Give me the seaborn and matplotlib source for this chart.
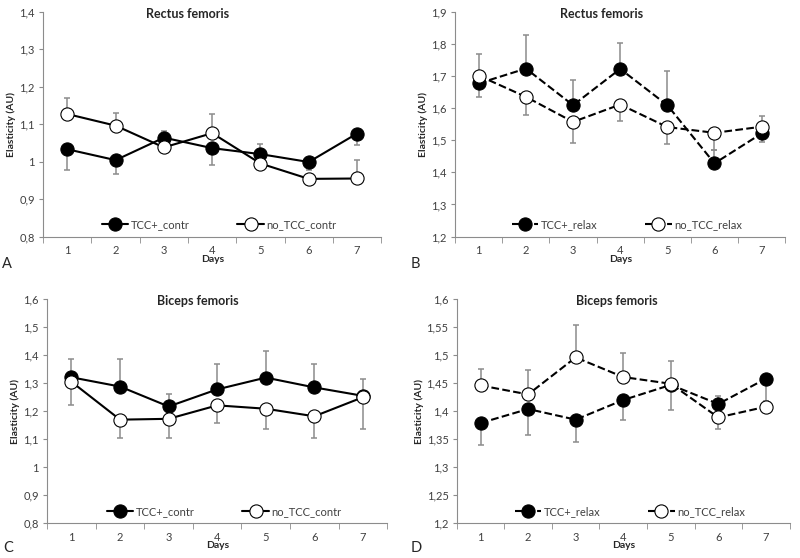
import numpy as np
import pandas as pd
import matplotlib
matplotlib.use("Agg")
import matplotlib.pyplot as plt
import seaborn as sns
from matplotlib.ticker import FuncFormatter

sns.set_style("white")
plt.rcParams['font.family'] = ['Lato', 'DejaVu Sans']

days = [1, 2, 3, 4, 5, 6, 7]

# Panel A - Rectus femoris, contraction
a_tcc = [1.033, 1.004, 1.064, 1.036, 1.020, 0.999, 1.075]
a_tcc_up = [0, 0, 0.018, 0, 0.026, 0, 0]
a_tcc_dn = [0.054, 0.036, 0, 0.046, 0, 0.02, 0.030]
a_no = [1.127, 1.096, 1.038, 1.076, 0.995, 0.954, 0.955]
a_no_up = [0.042, 0.033, 0, 0.051, 0, 0, 0.049]
a_no_dn = [0, 0, 0, 0, 0, 0, 0]

# Panel B - Rectus femoris, relaxation
b_tcc = [1.677, 1.723, 1.609, 1.722, 1.609, 1.428, 1.521]
b_tcc_up = [0, 0.103, 0.080, 0.081, 0.106, 0.043, 0]
b_tcc_dn = [0.042, 0, 0, 0, 0, 0, 0.026]
b_no = [1.701, 1.635, 1.557, 1.611, 1.541, 1.523, 1.542]
b_no_up = [0.066, 0, 0, 0, 0, 0, 0.033]
b_no_dn = [0, 0.057, 0.065, 0.050, 0.052, 0.053, 0]

# Panel C - Biceps femoris, contraction
c_tcc = [1.321, 1.288, 1.217, 1.278, 1.320, 1.285, 1.255]
c_tcc_up = [0.067, 0.097, 0.044, 0.092, 0.095, 0.082, 0.060]
c_tcc_dn = [0, 0, 0, 0, 0, 0, 0]
c_no = [1.305, 1.170, 1.173, 1.221, 1.209, 1.182, 1.250]
c_no_up = [0, 0, 0, 0, 0, 0, 0]
c_no_dn = [0.082, 0.065, 0.068, 0.063, 0.071, 0.078, 0.112]

# Panel D - Biceps femoris, relaxation
d_tcc = [1.379, 1.404, 1.385, 1.420, 1.447, 1.413, 1.458]
d_tcc_up = [0, 0, 0, 0, 0, 0.015, 0]
d_tcc_dn = [0.040, 0.046, 0.040, 0.036, 0.045, 0, 0.04]
d_no = [1.446, 1.430, 1.496, 1.461, 1.449, 1.389, 1.408]
d_no_up = [0.030, 0.043, 0.057, 0.043, 0.040, 0, 0]
d_no_dn = [0, 0, 0, 0, 0, 0.021, 0]

panels = [
    dict(tcc=a_tcc, tu=a_tcc_up, td=a_tcc_dn, no=a_no, nu=a_no_up, nd=a_no_dn,
         title='Rectus femoris', names=('TCC+_contr', 'no_TCC_contr'), ls='-',
         yticks=np.arange(0.8, 1.41, 0.1), letter='A', lx=0.003, ly=0.540,
         pos=[0.054, 0.576, 0.4225, 0.403], tx=0.235, ty=0.986),
    dict(tcc=b_tcc, tu=b_tcc_up, td=b_tcc_dn, no=b_no, nu=b_no_up, nd=b_no_dn,
         title='Rectus femoris', names=('TCC+_relax', 'no_TCC_relax'), ls='--',
         yticks=np.arange(1.2, 1.91, 0.1), letter='B', lx=0.513, ly=0.540,
         pos=[0.569, 0.576, 0.4125, 0.403], tx=0.752, ty=0.986),
    dict(tcc=c_tcc, tu=c_tcc_up, td=c_tcc_dn, no=c_no, nu=c_no_up, nd=c_no_dn,
         title='Biceps femoris', names=('TCC+_contr', 'no_TCC_contr'), ls='-',
         yticks=np.arange(0.8, 1.61, 0.1), letter='C', lx=0.004, ly=0.031,
         pos=[0.059, 0.062, 0.425, 0.402], tx=0.2475, ty=0.472),
    dict(tcc=d_tcc, tu=d_tcc_up, td=d_tcc_dn, no=d_no, nu=d_no_up, nd=d_no_dn,
         title='Biceps femoris', names=('TCC+_relax', 'no_TCC_relax'), ls='--',
         yticks=np.arange(1.2, 1.61, 0.05), letter='D', lx=0.513, ly=0.031,
         pos=[0.571, 0.062, 0.416, 0.402], tx=0.771, ty=0.472),
]

fig = plt.figure(figsize=(8, 5.58), dpi=100)
comma = FuncFormatter(lambda v, p: f"{v:g}".replace('.', ','))
grey = '#8c8c8c'

for p in panels:
    ax = fig.add_axes(p['pos'])
    # error bars first so the markers sit on top
    ax.errorbar(days, p['tcc'], yerr=[p['td'], p['tu']], fmt='none',
                ecolor=grey, elinewidth=1.1, capsize=2.5, capthick=1.1, zorder=1)
    ax.errorbar(days, p['no'], yerr=[p['nd'], p['nu']], fmt='none',
                ecolor=grey, elinewidth=1.1, capsize=2.5, capthick=1.1, zorder=1)
    df = pd.DataFrame({'day': days, 'tcc': p['tcc'], 'no': p['no']})
    sns.lineplot(data=df, x='day', y='tcc', ax=ax, color='black', lw=1.5,
                 linestyle=p['ls'], marker='o', markersize=9.5,
                 markerfacecolor='black', markeredgecolor='black',
                 markeredgewidth=0.8, label=p['names'][0], zorder=3)
    sns.lineplot(data=df, x='day', y='no', ax=ax, color='black', lw=1.5,
                 linestyle=p['ls'], marker='o', markersize=9.5,
                 markerfacecolor='white', markeredgecolor='black',
                 markeredgewidth=0.8, label=p['names'][1], zorder=3)

    ax.set_xlim(0.5, 7.5)
    ax.set_ylim(p['yticks'][0], p['yticks'][-1])
    ax.set_xticks(days)
    ax.set_xticks(np.arange(0.5, 7.6, 1), minor=True)
    ax.set_yticks(p['yticks'])
    ax.yaxis.set_major_formatter(comma)
    ax.tick_params(axis='x', which='major', length=0, pad=6, labelsize=8,
                   labelcolor='#404040')
    ax.tick_params(axis='x', which='minor', length=4, color=grey, direction='out',
                   bottom=True)
    ax.tick_params(axis='y', length=3, color=grey, direction='out', left=True,
                   pad=3, labelsize=8, labelcolor='#404040')
    for s in ['top', 'right']:
        ax.spines[s].set_visible(False)
    for s in ['left', 'bottom']:
        ax.spines[s].set_color(grey)
        ax.spines[s].set_linewidth(0.8)
    ax.set_xlabel('Days', fontsize=7.5, fontweight='bold', labelpad=-1)
    ax.set_ylabel('Elasticity (AU)', fontsize=7.5, fontweight='bold', labelpad=2)

    leg = ax.legend(loc='lower center', bbox_to_anchor=(0.52, -0.015), ncol=2,
                    frameon=False, fontsize=8, handlelength=2.4,
                    columnspacing=4.3, handletextpad=0.2)
    for t in leg.get_texts():
        t.set_color('#404040')

    fig.text(p['tx'], p['ty'], p['title'], ha='center', va='top',
             fontsize=9, fontweight='bold', color='#262626')
    fig.text(p['lx'], p['ly'], p['letter'], ha='left', va='top', fontsize=10.5)

fig.savefig('out.png', dpi=100, facecolor='white')
